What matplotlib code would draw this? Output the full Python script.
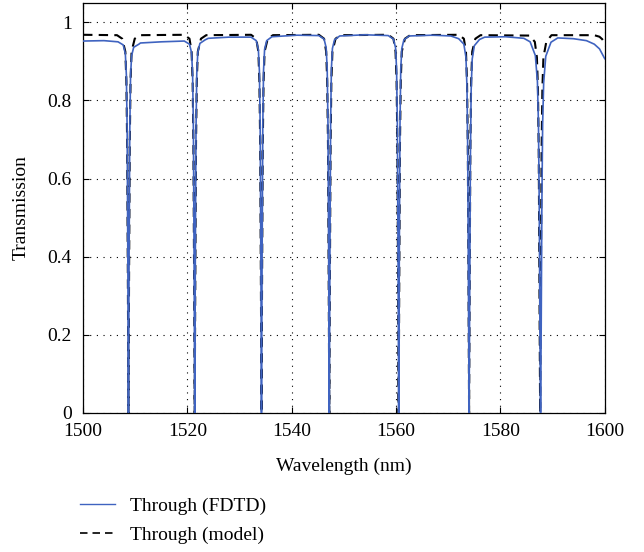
import matplotlib
matplotlib.use("Agg")
import matplotlib.pyplot as plt

# ---- data ----
fdtd_wl = [1500, 1504, 1506.7, 1507.7, 1508.1, 1508.3, 1508.45, 1508.58, 1508.7,
           1508.82, 1508.95, 1509.1, 1509.3, 1509.7, 1510.7, 1511, 1515,
           1519.4, 1520.4, 1520.8, 1521.0, 1521.15, 1521.28, 1521.4,
           1521.52, 1521.65, 1521.8, 1522.0, 1522.4, 1523.4, 1524, 1528,
           1532.2, 1533.2, 1533.6, 1533.8, 1533.95, 1534.08, 1534.2,
           1534.32, 1534.45, 1534.6, 1534.8, 1535.2, 1536.2, 1541,
           1545.2, 1546.2, 1546.6, 1546.8, 1546.95, 1547.08, 1547.2,
           1547.32, 1547.45, 1547.6, 1547.8, 1548.2, 1549.2, 1554,
           1558.5, 1559.5, 1559.9, 1560.1, 1560.25, 1560.38, 1560.5,
           1560.62, 1560.75, 1560.9, 1561.1, 1561.5, 1562.5, 1567, 1570.5,
           1572.0, 1573.0, 1573.4, 1573.6, 1573.75, 1573.88, 1574.0,
           1574.12, 1574.25, 1574.4, 1574.6, 1575.0, 1576.0, 1577, 1581, 1584.5,
           1585.7, 1586.7, 1587.1, 1587.3, 1587.45, 1587.58, 1587.7,
           1587.82, 1587.95, 1588.1, 1588.3, 1588.7, 1589.7, 1591, 1594,
           1596.5, 1598, 1599, 1600]
fdtd_t = [0.952, 0.953, 0.950, 0.942, 0.920, 0.865, 0.723, 0.399, 0.0,
          0.398, 0.720, 0.862, 0.914, 0.936, 0.944, 0.947, 0.950,
          0.952, 0.944, 0.922, 0.867, 0.724, 0.400, 0.0,
          0.402, 0.727, 0.871, 0.924, 0.946, 0.955, 0.959, 0.962,
          0.962, 0.953, 0.931, 0.876, 0.732, 0.404, 0.0,
          0.405, 0.733, 0.878, 0.931, 0.953, 0.963, 0.967,
          0.966, 0.957, 0.935, 0.880, 0.735, 0.406, 0.0,
          0.406, 0.735, 0.880, 0.933, 0.955, 0.965, 0.968,
          0.966, 0.957, 0.935, 0.880, 0.735, 0.406, 0.0,
          0.406, 0.735, 0.880, 0.933, 0.955, 0.965, 0.967, 0.965,
          0.958, 0.944, 0.910, 0.831, 0.657, 0.319, 0.0,
          0.318, 0.656, 0.829, 0.906, 0.940, 0.956, 0.962, 0.963, 0.959,
          0.950, 0.915, 0.848, 0.739, 0.528, 0.211, 0.0,
          0.211, 0.529, 0.740, 0.846, 0.913, 0.949, 0.960, 0.958,
          0.953, 0.944, 0.932, 0.907]

model_wl = [1500, 1506.5, 1507.5, 1508.1, 1508.3, 1508.45, 1508.58, 1508.7,
            1508.82, 1508.95, 1509.1, 1509.3, 1509.9, 1510.9,
            1519.4, 1520.4, 1520.8, 1521.0, 1521.15, 1521.28, 1521.4,
            1521.52, 1521.65, 1521.8, 1522.0, 1522.6, 1523.6,
            1532.2, 1533.2, 1533.6, 1533.8, 1533.95, 1534.08, 1534.2,
            1534.32, 1534.45, 1534.6, 1534.8, 1535.4, 1536.4,
            1545.2, 1546.2, 1546.6, 1546.8, 1546.95, 1547.08, 1547.2,
            1547.32, 1547.45, 1547.6, 1547.8, 1548.4, 1549.4,
            1558.5, 1559.5, 1559.9, 1560.1, 1560.25, 1560.38, 1560.5,
            1560.62, 1560.75, 1560.9, 1561.1, 1561.7, 1562.7,
            1572.0, 1573.0, 1573.4, 1573.6, 1573.75, 1573.88, 1574.0,
            1574.12, 1574.25, 1574.4, 1574.6, 1575.2, 1576.2,
            1585.6, 1586.6, 1587.0, 1587.2, 1587.35, 1587.48, 1587.62,
            1587.76, 1587.9, 1588.05, 1588.25, 1588.8, 1589.8,
            1598.0, 1599.0, 1599.5, 1600]
model_t = [0.968, 0.967, 0.958, 0.925, 0.850, 0.690, 0.360, 0.0,
           0.360, 0.690, 0.850, 0.925, 0.958, 0.967,
           0.968, 0.958, 0.925, 0.850, 0.690, 0.360, 0.0,
           0.360, 0.690, 0.850, 0.925, 0.958, 0.967,
           0.968, 0.958, 0.925, 0.850, 0.690, 0.360, 0.0,
           0.360, 0.690, 0.850, 0.925, 0.958, 0.967,
           0.968, 0.958, 0.925, 0.850, 0.690, 0.360, 0.0,
           0.360, 0.690, 0.850, 0.925, 0.958, 0.967,
           0.968, 0.958, 0.925, 0.850, 0.690, 0.360, 0.0,
           0.360, 0.690, 0.850, 0.925, 0.958, 0.967,
           0.968, 0.958, 0.925, 0.850, 0.690, 0.360, 0.0,
           0.360, 0.690, 0.850, 0.925, 0.958, 0.967,
           0.966, 0.950, 0.910, 0.830, 0.670, 0.340, 0.0,
           0.340, 0.670, 0.830, 0.910, 0.950, 0.967,
           0.967, 0.963, 0.957, 0.948]

x_ticks = [1500, 1520, 1540, 1560, 1580, 1600]
y_ticks = [0, 0.2, 0.4, 0.6, 0.8, 1]
y_tick_labels = ["0", "0.2", "0.4", "0.6", "0.8", "1"]

# ---- plot ----
plt.rcParams['font.family'] = ['Liberation Serif', 'DejaVu Serif']
plt.rcParams['font.size'] = 14

fig = plt.figure(figsize=(6.44, 5.52), dpi=100)
ax = fig.add_axes([0.129, 0.252, 0.81, 0.743])

ax.plot(fdtd_wl, fdtd_t, color='#3F63C0', lw=1.2, label='Through (FDTD)', zorder=3)
ax.plot(model_wl, model_t, color='black', lw=1.5, ls=(0, (4.5, 3)),
        label='Through (model)', zorder=2)

ax.set_xlim(1500, 1600)
ax.set_ylim(0, 1.05)
ax.set_xticks(x_ticks)
ax.set_yticks(y_ticks)
ax.set_yticklabels(y_tick_labels)
ax.tick_params(direction='in', top=True, right=True, length=4, width=0.8)
ax.tick_params(axis='x', pad=7)
ax.tick_params(axis='y', pad=8)
ax.grid(True, color='black', ls=(0, (1, 5)), lw=0.8)
for s in ax.spines.values():
    s.set_linewidth(0.9)

ax.set_xlabel('Wavelength (nm)', labelpad=13)
ax.set_ylabel('Transmission', labelpad=13)

leg = ax.legend(loc='upper left', bbox_to_anchor=(-0.005, -0.205), frameon=False,
                handlelength=1.8, handletextpad=0.75, labelspacing=0.6,
                borderaxespad=0, borderpad=0)
leg.get_lines()[0].set_linewidth(1.0)
leg.get_lines()[1].set_linewidth(1.2)

fig.savefig('out.png', dpi=100)
